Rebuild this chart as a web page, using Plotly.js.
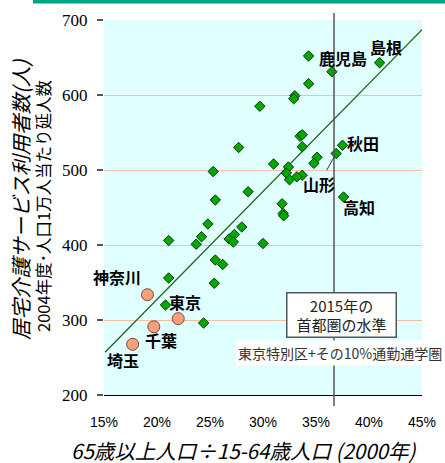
<!DOCTYPE html>
<html>
<head>
<meta charset="utf-8">
<script src="https://cdn.plot.ly/plotly-3.0.1.min.js"></script>
<style>html,body{margin:0;padding:0;background:#fff;}#chart{width:445px;height:463px;}</style>
</head>
<body>
<div id="chart"></div>
<script>
// Prefectures (green diamonds): ratio 65+/15-64 (%, 2000) vs home-care users per 10k (2004)
const greenX = [34.3, 36.5, 41.0, 34.3, 33.0, 32.9, 29.7, 27.7, 33.5, 33.7, 33.7, 37.5, 36.9, 35.1, 34.8,
                31.0, 32.4, 32.2, 33.7, 33.2, 32.5, 28.6, 37.6, 31.8, 31.9, 31.95, 28.0, 25.3, 25.5, 24.8,
                21.1, 24.2, 23.7, 26.8, 27.3, 27.2, 30.0, 25.5, 26.2, 25.4, 21.1, 20.8, 24.4];
const greenY = [652, 631, 643, 615, 599, 595, 585, 530, 545, 547, 531, 533, 522, 517, 509,
                508, 504, 496, 493, 491, 487, 471, 464, 455, 442, 439, 424, 498, 460, 428,
                406, 411, 401, 408, 414, 404, 402, 380, 374, 349, 356, 320, 296];
// Capital-area prefectures (orange circles)
const orangeNames = ['神奈川', '東京', '千葉', '埼玉'];
const orangeX = [19.1, 22.0, 19.7, 17.7];
const orangeY = [333.7, 301.8, 291, 267.6];
// Trend line end points
const trendX = [15.1, 45.0];
const trendY = [257, 687];
// 2015 capital-area level
const level2015 = 36.7;
// Axis ticks
const xTicks = [15, 20, 25, 30, 35, 40, 45];
const yTicks = [200, 300, 400, 500, 600, 700];
const xRange = [15, 45];
const yRange = [200, 700];

const CJK = 'Noto Sans CJK JP, sans-serif';

const traces = [
  {x: trendX, y: trendY, type: 'scatter', mode: 'lines', line: {color: '#186018', width: 1.2}, hoverinfo: 'skip'},
  {x: greenX, y: greenY, type: 'scatter', mode: 'markers',
   marker: {symbol: 'diamond', size: 8, color: '#00a800', line: {color: '#063806', width: 1}}},
  {x: orangeX, y: orangeY, type: 'scatter', mode: 'markers', text: orangeNames,
   marker: {symbol: 'circle', size: 12, color: '#f8a07c', line: {color: '#7a4a3a', width: 1}}}
];

const W = 445, H = 463, L = 104, R = 23, T = 20, B = 68;
const pw = W - L - R, ph = H - T - B;
const px2paperX = p => (p - L) / pw;
const py2paperY = p => (H - B - p) / ph;
const lvlPaper = (level2015 - xRange[0]) / (xRange[1] - xRange[0]);

function lab(text, x, y) {
  return {x: x, y: y, xref: 'x', yref: 'y', xanchor: 'center', yanchor: 'middle',
          text: '<b>' + text + '</b>', showarrow: false,
          font: {family: CJK, size: 16, color: '#000'}};
}

const annotations = [
  lab('鹿児島', 37.5, 649),
  lab('島根', 41.65, 664),
  lab('秋田', 39.43, 536),
  lab('高知', 39.06, 451),
  lab(orangeNames[0], 16.18, 357.7),
  lab(orangeNames[1], 22.64, 324.4),
  lab(orangeNames[2], 20.33, 273.3),
  lab(orangeNames[3], 16.75, 246.7),
  {x: 36.9, y: 522, xref: 'x', yref: 'y', ax: -17, ay: 30, text: '<b>山形</b>', showarrow: true,
   arrowhead: 0, arrowwidth: 1, arrowcolor: '#333', standoff: 3,
   font: {family: CJK, size: 16, color: '#000'}},
  {x: 37.45, y: 306.7, xref: 'x', yref: 'y', xanchor: 'center', yanchor: 'middle',
   text: '2015年の<br>首都圏の水準', showarrow: false,
   font: {family: CJK, size: 15, color: '#222'}, bgcolor: '#fff', bordercolor: '#555', borderwidth: 1.5,
   borderpad: 1, width: 106},
  {x: 27.36, y: 256, xref: 'x', yref: 'y', xanchor: 'left', yanchor: 'middle',
   text: '東京特別区+その10%通勤通学圏', showarrow: false,
   font: {family: CJK, size: 14, color: '#333'}, bgcolor: '#fff', borderpad: 2},
  {x: px2paperX(20), y: py2paperY(200), xref: 'paper', yref: 'paper', xanchor: 'center', yanchor: 'middle',
   textangle: -90, showarrow: false,
   text: '<i>居宅介護サービス利用者数(人)</i>', font: {family: CJK, size: 20.5, color: '#000'}},
  {x: px2paperX(43), y: py2paperY(206), xref: 'paper', yref: 'paper', xanchor: 'center', yanchor: 'middle',
   textangle: -90, showarrow: false,
   text: '2004年度･人口1万人当たり延人数', font: {family: CJK, size: 16.5, color: '#000'}},
  {x: px2paperX(70), y: py2paperY(450), xref: 'paper', yref: 'paper', xanchor: 'left', yanchor: 'middle',
   showarrow: false, borderpad: 0,
   text: '<i>65歳以上人口÷15-64歳人口 (2000年)</i>', font: {family: CJK, size: 20.5, color: '#000'}}
];

const shapes = [
  {type: 'line', xref: 'paper', yref: 'paper', x0: lvlPaper, x1: lvlPaper, y0: py2paperY(406), y1: py2paperY(13),
   line: {color: '#555', width: 1.5}, layer: 'above'},
  {type: 'rect', xref: 'paper', yref: 'paper', x0: px2paperX(33), x1: px2paperX(446), y0: py2paperY(3.5), y1: py2paperY(-1),
   fillcolor: '#00a383', line: {width: 0}}
];

const layout = {
  width: W, height: H,
  margin: {l: L, r: R, t: T, b: B, pad: 0},
  paper_bgcolor: '#fff', plot_bgcolor: '#e0ffff',
  showlegend: false,
  xaxis: {range: xRange, tickvals: xTicks, ticktext: xTicks.map(v => v + '%'),
          showgrid: false, zeroline: false, showline: true, linecolor: '#000', linewidth: 1,
          ticks: 'outside', ticklen: 14, tickcolor: 'rgba(0,0,0,0)',
          tickfont: {family: 'Liberation Sans, Arial, sans-serif', size: 14, color: '#000'}},
  yaxis: {range: yRange, tickvals: yTicks, showgrid: true, gridcolor: '#f6bea6', gridwidth: 1,
          zeroline: false, showline: false, ticks: 'outside', ticklen: 6, tickcolor: '#555', tickwidth: 1.5,
          ticklabelstandoff: 6,
          tickfont: {family: 'Liberation Serif, Times New Roman, serif', size: 17, color: '#000'}},
  annotations: annotations,
  shapes: shapes
};

Plotly.newPlot('chart', traces, layout, {displayModeBar: false, staticPlot: true});
</script>
</body>
</html>
